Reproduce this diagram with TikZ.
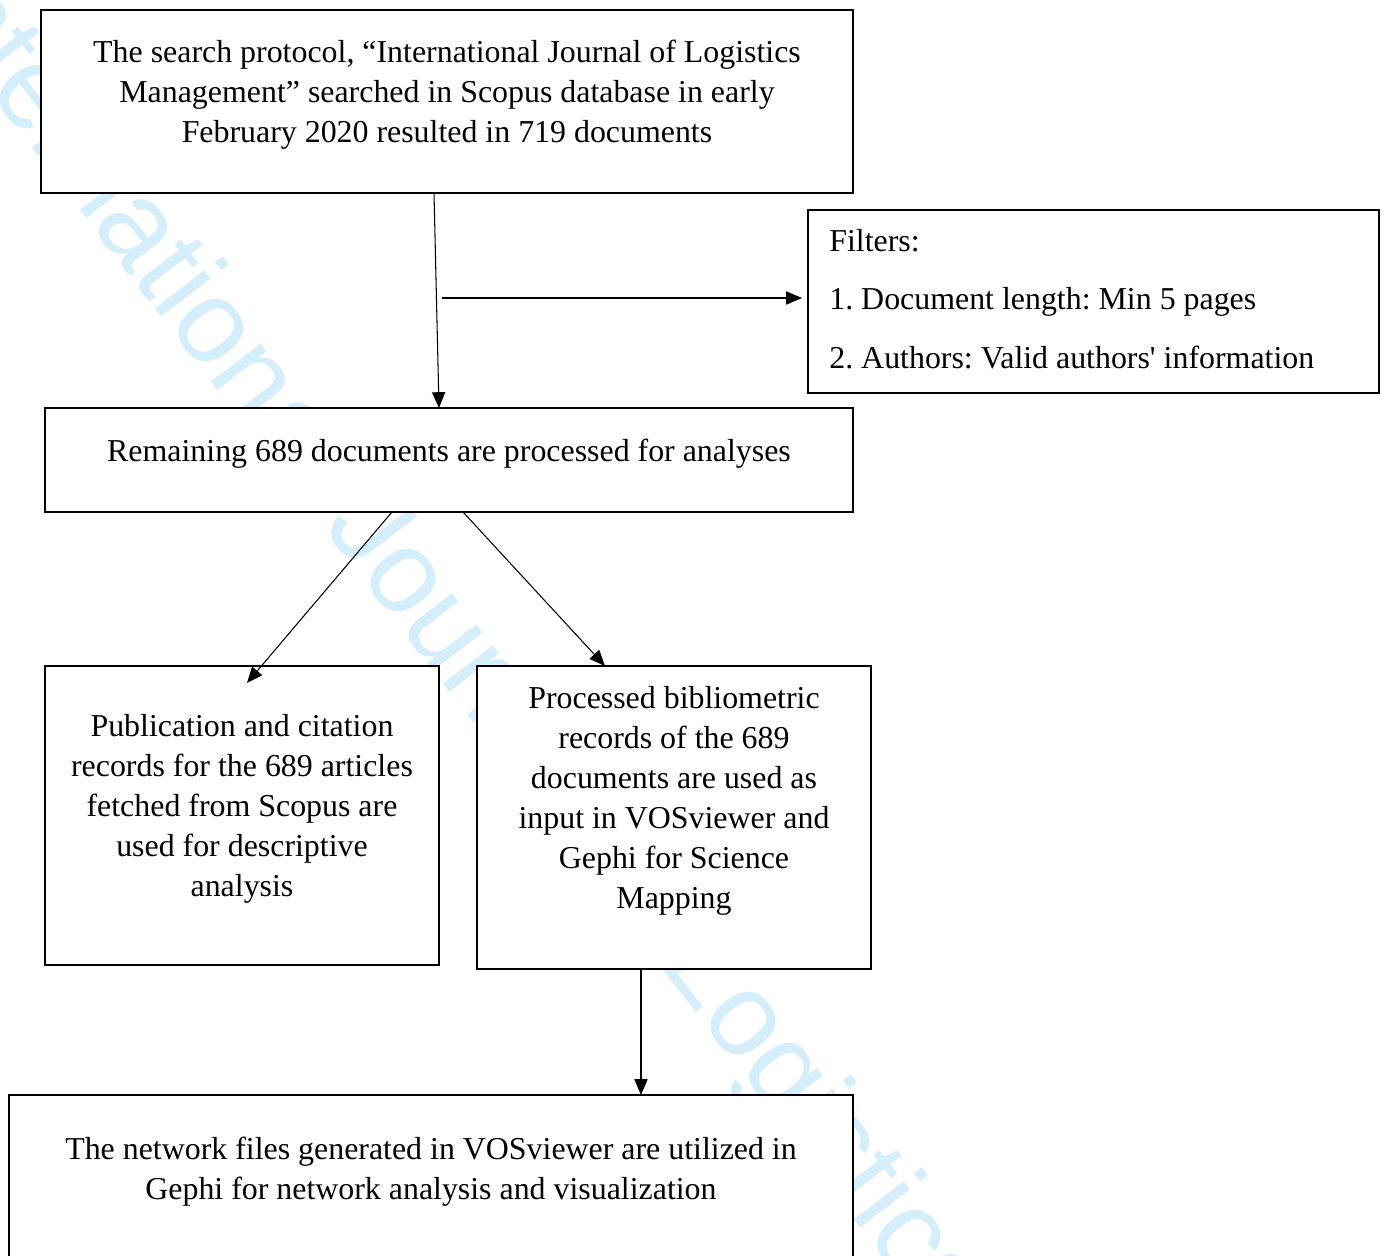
\documentclass[tikz,border=0pt]{standalone}
\usepackage{fontspec}
\setmainfont{Liberation Serif}
\newfontfamily\wmfont{Liberation Sans}
\usetikzlibrary{arrows.meta,positioning}
\newcommand{\pxu}{0.02cm}
\definecolor{wmark}{RGB}{212,238,251}

\begin{document}
\begin{tikzpicture}[
    x=0.02cm, y=-0.02cm,
    box/.style={rectangle, draw, line width=1.2pt, fill=white, inner sep=0pt, outer sep=0pt},
    txt/.style={align=center, inner sep=0pt, font=\frenchspacing\fontsize{18.15}{22.8}\selectfont},
    arrow/.style={-{Triangle[length=9pt,width=7.5pt]}, line width=0.6pt}
]
    \useasboundingbox (0,0) rectangle (1387,1256);
    \clip (0,0) rectangle (1387,1256);

    % watermark behind the boxes
    \node[anchor=base west, rotate=-52.5, text=wmark, inner sep=0pt,
          font=\wmfont\fontsize{67.2}{70}\selectfont] (wm) at (-93,-15)
          {International Journal of Logistics Management};

    % boxes
    \node[box, minimum width=812*\pxu, minimum height=183*\pxu] (search) at (447,101.5) {};
    \node[box, minimum width=571*\pxu, minimum height=183*\pxu] (filters) at (1093.5,301.5) {};
    \node[box, minimum width=808*\pxu, minimum height=104*\pxu] (remain) at (449,460) {};
    \node[box, minimum width=394*\pxu, minimum height=299*\pxu] (pubrec) at (242,815.5) {};
    \node[box, minimum width=394*\pxu, minimum height=303*\pxu] (biblio) at (674,817.5) {};
    \node[box, minimum width=844*\pxu, minimum height=180*\pxu] (network) at (431,1185) {};

    % texts
    \node[txt] (searchtxt) at (447,95) {The search protocol, “International Journal of Logistics\\Management” searched in Scopus database in early\\February 2020 resulted in 719 documents};
    \node[txt, align=left, anchor=west, font=\frenchspacing\fontsize{18.15}{33.3}\selectfont] (filterstxt) at (829,299)
        {Filters:\\1. Document length: Min 5 pages\\2. Authors: Valid authors\textquotesingle{} information};
    \node[txt] (remaintxt) at (449,454) {Remaining 689 documents are processed for analyses};
    \node[txt] (pubrectxt) at (242,809) {Publication and citation\\records for the 689 articles\\fetched from Scopus are\\used for descriptive\\analysis};
    \node[txt] (bibliotxt) at (674,801) {Processed bibliometric\\records of the 689\\documents are used as\\input in VOSviewer and\\Gephi for Science\\Mapping};
    \node[txt] (networktxt) at (431,1172) {The network files generated in VOSviewer are utilized in\\Gephi for network analysis and visualization};

    % connectors
    \coordinate (fork) at (442,298);
    \coordinate (pubtip) at (247,683);
    \draw[arrow] (search.south -| 434,0) -- (remain.north -| 439,0);
    \draw[arrow, shorten >=3.4pt] (fork) -- (filters.west |- fork);
    \draw[arrow] (remain.south -| 392,0) -- (pubtip);
    \draw[arrow] (remain.south -| 463,0) -- (biblio.north -| 605,0);
    \draw[arrow] (biblio.south -| 641,0) -- (network.north -| 641,0);
\end{tikzpicture}
\end{document}
